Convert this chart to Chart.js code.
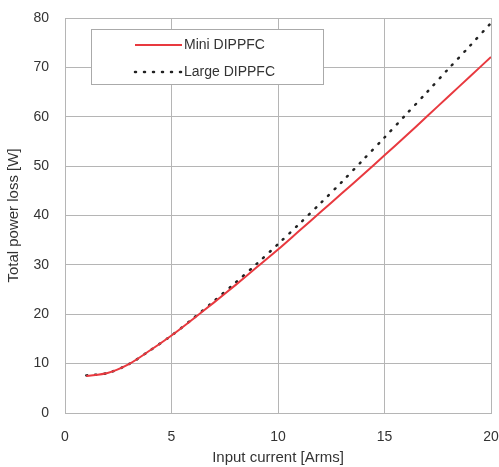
<!DOCTYPE html>
<html>
<head>
<meta charset="UTF-8">
<title>Total power loss</title>
<script src="https://cdn.jsdelivr.net/npm/chart.js"></script>
<style>
  html, body { margin: 0; padding: 0; background: #fff; }
  #wrap { width: 499px; height: 467px; }
</style>
</head>
<body>
<div id="wrap"><canvas id="c"></canvas></div>
<script>
// data
const current = [1, 2, 3, 4, 5, 6, 7, 8, 9, 10, 11, 12, 13, 14, 15, 16, 17, 18, 19, 20];
const miniLoss = [7.5, 8.1, 9.9, 12.7, 15.7, 19.0, 22.4, 25.9, 29.5, 33.1, 36.9, 40.7, 44.5, 48.3, 52.2, 56.1, 60.1, 64.1, 68.1, 72.1];
const largeLoss = [7.6, 8.1, 9.9, 12.7, 15.7, 19.1, 22.7, 26.4, 30.2, 34.2, 38.3, 42.5, 46.8, 51.3, 55.8, 60.4, 65.0, 69.7, 74.3, 79.0];
const seriesNames = ['Mini DIPPFC', 'Large DIPPFC'];
const xTitle = 'Input current [Arms]';
const yTitle = 'Total power loss [W]';

const font = 'Liberation Sans, Arial, sans-serif';
const textColor = '#333';
const gridColor = '#b5b5b5';

function pts(ys) {
    return current.map((x, i) => ({ x: x, y: ys[i] }));
}

// legend box drawn inside the plot area
const boxLegend = {
    id: 'boxLegend',
    afterDraw(chart) {
        const ctx = chart.ctx;
        const a = chart.chartArea;
        const left = a.left + 26, top = a.top + 11, w = 232, h = 55;
        ctx.save();
        ctx.fillStyle = '#fff';
        ctx.fillRect(left, top, w, h);
        ctx.strokeStyle = '#aaa';
        ctx.lineWidth = 1;
        ctx.strokeRect(left + 0.5, top + 0.5, w, h);
        ctx.font = '14px ' + font;
        ctx.textBaseline = 'middle';
        chart.data.datasets.forEach((ds, i) => {
            const y = top + 16 + i * 27;
            ctx.beginPath();
            ctx.strokeStyle = ds.borderColor;
            ctx.lineWidth = ds.borderWidth;
            ctx.lineCap = ds.borderCapStyle || 'butt';
            ctx.setLineDash(ds.borderDash || []);
            ctx.moveTo(left + 44, y);
            ctx.lineTo(left + 91, y);
            ctx.stroke();
            ctx.setLineDash([]);
            ctx.fillStyle = textColor;
            ctx.fillText(ds.label, left + 93, y);
        });
        ctx.restore();
    }
};

new Chart(document.getElementById('c'), {
    type: 'line',
    data: {
        datasets: [
            {
                label: seriesNames[0],
                data: pts(miniLoss),
                borderColor: '#e8393f',
                borderWidth: 2,
                pointRadius: 0,
                tension: 0.3,
                fill: false
            },
            {
                label: seriesNames[1],
                data: pts(largeLoss),
                borderColor: '#222',
                borderWidth: 2.5,
                borderDash: [1, 8],
                borderCapStyle: 'round',
                pointRadius: 0,
                tension: 0.3,
                fill: false
            }
        ]
    },
    options: {
        responsive: true,
        maintainAspectRatio: false,
        animation: false,
        layout: { padding: { top: 18, right: 8, left: 0, bottom: 0 } },
        plugins: {
            legend: { display: false },
            tooltip: { enabled: false }
        },
        scales: {
            x: {
                type: 'linear',
                min: 0,
                max: 20,
                ticks: { stepSize: 5, color: textColor, font: { family: font, size: 14 }, padding: 16, maxRotation: 0 },
                grid: { color: gridColor, drawTicks: false },
                border: { color: gridColor },
                title: { display: true, text: xTitle, color: textColor, font: { family: font, size: 15 }, padding: { top: 2, bottom: 0 } },
                afterFit(s) { s.height = 54; s.paddingLeft = 0; s.paddingRight = 0; }
            },
            y: {
                min: 0,
                max: 80,
                ticks: { stepSize: 10, color: textColor, font: { family: font, size: 14 }, padding: 16 },
                grid: { color: gridColor, drawTicks: false },
                border: { color: gridColor },
                title: { display: true, text: yTitle, color: textColor, font: { family: font, size: 15 }, padding: { top: 5, bottom: 2 } },
                afterFit(s) { s.width = 65; s.paddingTop = 0; s.paddingBottom = 0; }
            }
        }
    },
    plugins: [boxLegend]
});
</script>
</body>
</html>
